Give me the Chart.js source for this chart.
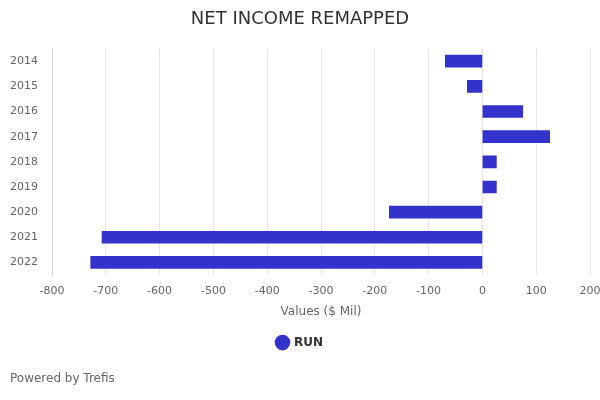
<!DOCTYPE html>
<html>
<head>
<meta charset="utf-8">
<script src="https://cdn.jsdelivr.net/npm/chart.js@4"></script>
<style>
  body { margin: 0; background: #fff; }
</style>
</head>
<body>
<canvas id="chart" width="600" height="400"></canvas>
<script>
    "use strict";

    // years and net income values ($ Mil)
    const years = ['2014', '2015', '2016', '2017', '2018', '2019', '2020', '2021', '2022'];
    const runValues = [-69, -28, 75, 125, 26, 26, -173, -707, -728];
    const xTicks = [-800, -700, -600, -500, -400, -300, -200, -100, 0, 100, 200];

    const font = '"DejaVu Sans", sans-serif';

    new Chart(document.getElementById('chart'), {
        type: 'bar',
        data: {
            labels: years,
            datasets: [{
                label: 'RUN',
                data: runValues,
                backgroundColor: '#3333cc',
                borderWidth: 0,
                barThickness: 12
            }]
        },
        options: {
            indexAxis: 'y',
            responsive: false,
            devicePixelRatio: 1,
            animation: false,
            layout: {
                padding: { left: 10, right: 10, bottom: 0 }
            },
            scales: {
                x: {
                    min: xTicks[0],
                    max: xTicks[xTicks.length - 1],
                    afterBuildTicks: function (axis) {
                        axis.ticks = xTicks.map(v => ({ value: v }));
                    },
                    afterFit: function (axis) {
                        // let the end labels hang over the plot edges
                        axis.paddingLeft = 0;
                        axis.paddingRight = 0;
                    },
                    grid: { color: '#e6e6e6', drawTicks: false },
                    border: { display: false },
                    ticks: {
                        color: '#666',
                        font: { family: font, size: 11 },
                        padding: 10
                    },
                    title: {
                        display: true,
                        text: 'Values ($ Mil)',
                        color: '#666',
                        font: { family: font, size: 12 },
                        padding: { top: -4, bottom: 2 }
                    }
                },
                y: {
                    afterFit: function (axis) {
                        axis.width = 42;  // labels from x=10, axis line at x=52
                    },
                    grid: { display: false, drawTicks: false },
                    border: { display: true, color: '#ccd6eb' },
                    ticks: {
                        color: '#666',
                        font: { family: font, size: 11 },
                        padding: 14
                    }
                }
            },
            plugins: {
                title: {
                    display: true,
                    text: 'NET INCOME REMAPPED',
                    color: '#333',
                    font: { family: font, size: 18, weight: 'normal' },
                    padding: { top: 9, bottom: 18 }
                },
                legend: {
                    position: 'bottom',
                    labels: {
                        usePointStyle: true,
                        pointStyle: 'circle',
                        boxWidth: 11,
                        boxHeight: 11,
                        color: '#333',
                        font: { family: font, size: 12, weight: 'bold' },
                        padding: 16
                    }
                },
                subtitle: {
                    display: true,
                    position: 'bottom',
                    align: 'start',
                    text: 'Powered by Trefis',
                    color: '#666',
                    font: { family: font, size: 12 },
                    padding: { top: 13, bottom: 14 }
                },
                tooltip: { enabled: false }
            }
        }
    });
</script>
</body>
</html>
